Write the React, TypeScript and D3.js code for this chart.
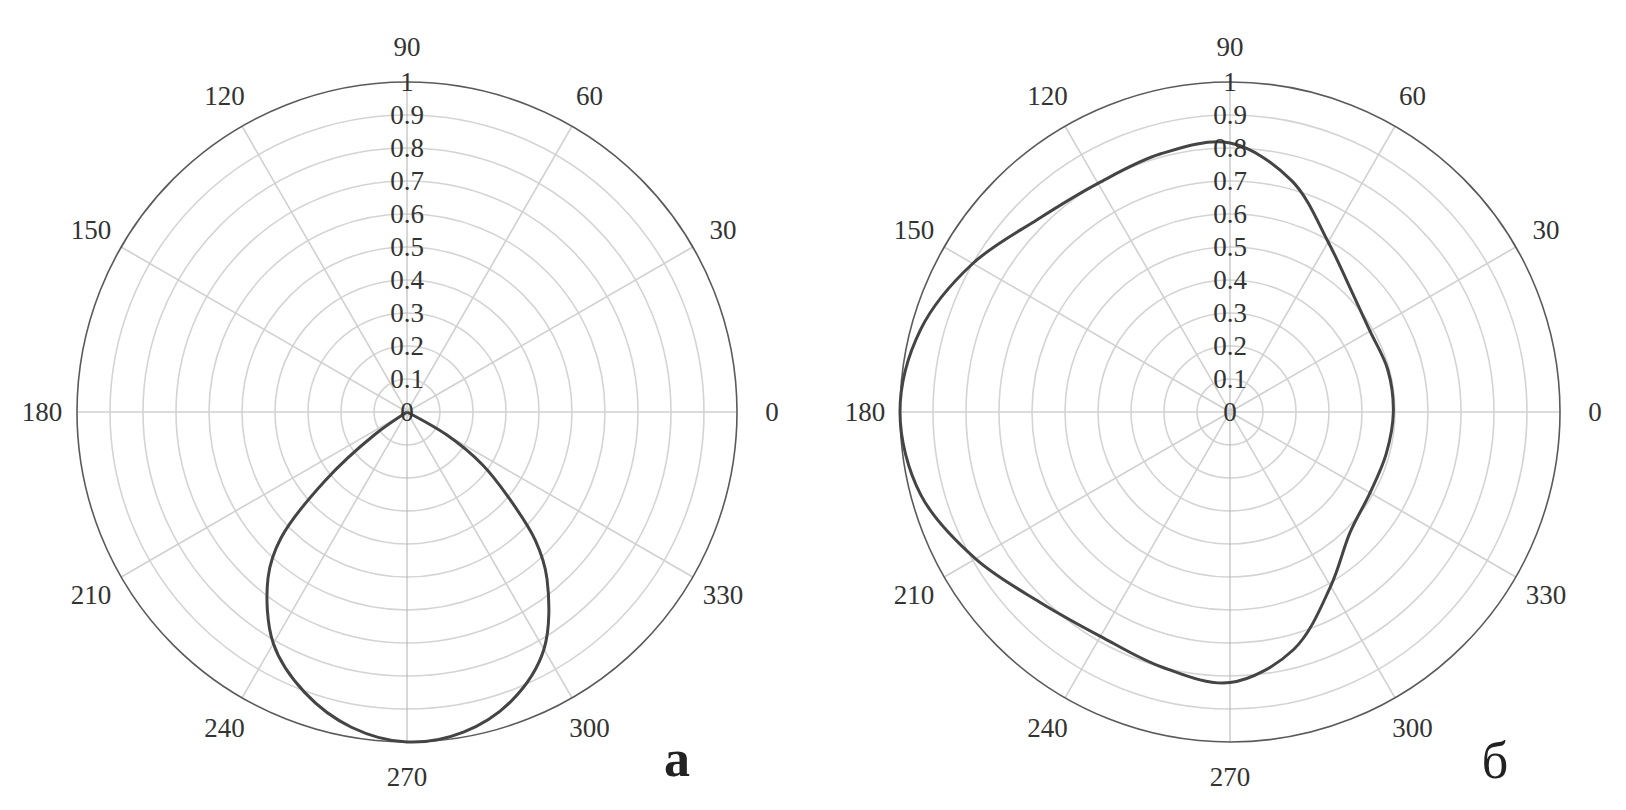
import React from "react";
import * as d3 from "d3";

// ---- Data ----
const ANGLE_TICKS = [0, 30, 60, 90, 120, 150, 180, 210, 240, 270, 300, 330];
const RADIAL_TICKS = [0, 0.1, 0.2, 0.3, 0.4, 0.5, 0.6, 0.7, 0.8, 0.9, 1];
const RADIAL_LABELS = ["0", "0.1", "0.2", "0.3", "0.4", "0.5", "0.6", "0.7", "0.8", "0.9", "1"];

// Chart "а": open lobe through the origin (angle in degrees, counter-clockwise from 0)
const ANGLES_A = [206, 215, 220, 225, 230, 240, 250, 260, 270, 280, 290, 300, 310, 315, 320, 325, 330, 335];
const VALUES_A = [0, 0.12, 0.325, 0.54, 0.655, 0.81, 0.905, 0.97, 1.0, 0.985, 0.93, 0.83, 0.66, 0.55, 0.4, 0.28, 0.14, 0];

// Chart "б": closed curve
const ANGLES_B = [0, 15, 30, 45, 60, 75, 90, 105, 120, 135, 150, 165, 180, 195, 210, 225, 240, 255, 270, 285, 300, 315, 330, 345];
const VALUES_B = [0.495, 0.495, 0.49, 0.52, 0.595, 0.725, 0.815, 0.81, 0.8, 0.825, 0.9, 0.97, 1.0, 0.97, 0.89, 0.815, 0.785, 0.8, 0.82, 0.745, 0.61, 0.515, 0.49, 0.49];

const PANELS = [
  { cx: 407, cy: 412, letter: "а", lx: 677, ly: 758, bold: true, angles: ANGLES_A, values: VALUES_A, closed: false },
  { cx: 1230, cy: 412, letter: "б", lx: 1495, ly: 760, bold: false, angles: ANGLES_B, values: VALUES_B, closed: true },
];

const R = 330;
const FONT = "'Liberation Serif', 'Times New Roman', serif";

function Panel({ p }: { p: typeof PANELS[number] }) {
  const r = d3.scaleLinear().domain([0, 1]).range([0, R]);
  const toRad = (deg: number) => (deg * Math.PI) / 180;
  const pts = p.angles.map((a, i) => [a, p.values[i]] as [number, number]);
  const line = d3
    .lineRadial<[number, number]>()
    .angle((d) => Math.PI / 2 - toRad(d[0]))
    .radius((d) => r(d[1]))
    .curve(p.closed ? d3.curveCatmullRomClosed.alpha(0.5) : d3.curveCatmullRom.alpha(0.5));

  return (
    <g transform={`translate(${p.cx},${p.cy})`}>
      {RADIAL_TICKS.slice(1, -1).map((t) => (
        <circle key={t} r={r(t)} fill="none" stroke="#d4d4d4" strokeWidth={1.6} />
      ))}
      {ANGLE_TICKS.filter((a) => a < 180).map((a) => {
        const x = R * Math.cos(toRad(a));
        const y = -R * Math.sin(toRad(a));
        const vertical = a === 90;
        return (
          <line
            key={a}
            x1={-x}
            y1={-y}
            x2={x}
            y2={y}
            stroke={vertical ? "#b0b0b0" : "#d0d0d0"}
            strokeWidth={vertical ? 1 : 1.6}
          />
        );
      })}
      <circle r={r(1)} fill="none" stroke="#5a5a5a" strokeWidth={1.6} />
      <path d={line(pts) || ""} fill="none" stroke="#444" strokeWidth={3} strokeLinejoin="round" />
      {RADIAL_TICKS.map((t, i) => (
        <text
          key={t}
          x={0}
          y={-r(t)}
          textAnchor="middle"
          dominantBaseline="central"
          fontFamily={FONT}
          fontSize={27}
          fill="#333"
        >
          {RADIAL_LABELS[i]}
        </text>
      ))}
      {ANGLE_TICKS.map((a) => (
        <text
          key={a}
          x={(R + 35) * Math.cos(toRad(a))}
          y={-(R + 35) * Math.sin(toRad(a))}
          textAnchor="middle"
          dominantBaseline="central"
          fontFamily={FONT}
          fontSize={27}
          fill="#333"
        >
          {a}
        </text>
      ))}
      <text
        x={p.lx - p.cx}
        y={p.ly - p.cy}
        textAnchor="middle"
        dominantBaseline="central"
        fontFamily={FONT}
        fontSize={52}
        fontWeight={p.bold ? "bold" : "normal"}
        fill="#222"
      >
        {p.letter}
      </text>
    </g>
  );
}

export default function App() {
  return (
    <svg
      width={1626}
      height={810}
      style={{ position: "absolute", left: 0, top: 0, background: "#fff" }}
    >
      <rect width={1626} height={810} fill="#fff" />
      {PANELS.map((p) => (
        <Panel key={p.letter} p={p} />
      ))}
    </svg>
  );
}
